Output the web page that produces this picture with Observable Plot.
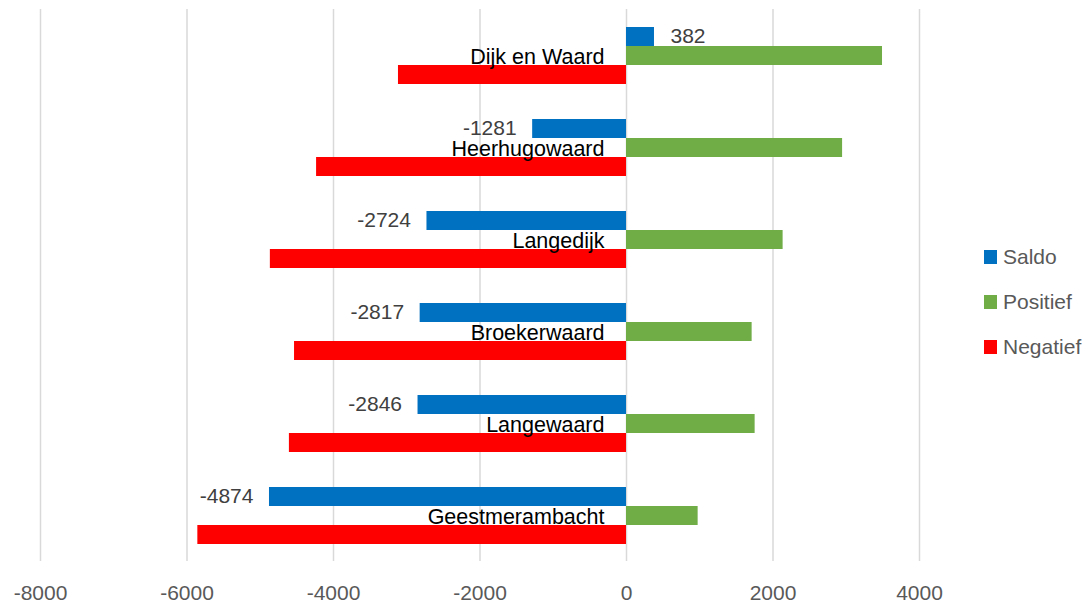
<!DOCTYPE html>
<html><head><meta charset="utf-8">
<script src="https://cdn.jsdelivr.net/npm/d3@7"></script>
<script src="https://cdn.jsdelivr.net/npm/@observablehq/plot@0.6"></script>
<style>
body{margin:0;background:#fff;}
#wrap{position:relative;width:1092px;height:606px;font-family:"Liberation Sans",Arial,sans-serif;}
#wrap svg{display:block;}
#legend{position:absolute;left:984px;top:234px;}
.item{display:flex;align-items:center;height:45px;font-size:21px;color:#595959;}
.sw{width:13px;height:14px;margin-right:6px;}
</style></head><body><div id="wrap"><div id="legend"></div></div>
<script>
const categories = ["Dijk en Waard","Heerhugowaard","Langedijk","Broekerwaard","Langewaard","Geestmerambacht"];
const saldo = [382,-1281,-2724,-2817,-2846,-4874];
const positief = [3495,2950,2138,1715,1756,978];
const negatief = [-3113,-4231,-4862,-4532,-4602,-5852];
const seriesNames = ["Saldo","Positief","Negatief"];
const seriesColors = ["#0070C0","#70AD47","#FF0000"];
const xTicks = [-8000,-6000,-4000,-2000,0,2000,4000];

const rows = categories.flatMap((c,i)=>[
  {cat:c, series:"Saldo", value:saldo[i]},
  {cat:c, series:"Positief", value:positief[i]},
  {cat:c, series:"Negatief", value:negatief[i]}
]);

const font = "'Liberation Sans', Arial, sans-serif";
const chart = Plot.plot({
  width:1092, height:606,
  marginTop:7, marginBottom:44, marginLeft:40, marginRight:173,
  style:{fontFamily:font, background:"white"},
  x:{domain:[-8000,4000], label:null},
  y:{domain:seriesNames, paddingInner:0, paddingOuter:0.9, axis:null, label:null},
  fy:{domain:categories, padding:0, axis:null, label:null},
  color:{domain:seriesNames, range:seriesColors},
  facet:{data:rows, y:"cat"},
  marks:[
    Plot.gridX(xTicks, {stroke:"#d9d9d9", strokeOpacity:1, strokeWidth:1.5}),
    Plot.axisX(xTicks, {tickSize:0, tickPadding:24, fontSize:21, fill:"#595959", label:null, tickFormat:d=>String(d)}),
    Plot.barX(rows, {x:"value", y:"series", fill:"series"}),
    Plot.text(rows, {filter:d=>d.series==="Positief", x:0, y:"series", text:"cat", textAnchor:"end", dx:-22, dy:1, fontSize:21.5, fill:"black"}),
    Plot.text(rows, {filter:d=>d.series==="Saldo" && d.value>=0, x:"value", y:"series", text:d=>String(d.value), textAnchor:"start", dx:16, dy:-1, fontSize:21, fill:"#404040"}),
    Plot.text(rows, {filter:d=>d.series==="Saldo" && d.value<0, x:"value", y:"series", text:d=>String(d.value), textAnchor:"end", dx:-16, dy:-1, fontSize:21, fill:"#404040"})
  ]
});
document.getElementById("wrap").prepend(chart);

const legend = document.getElementById("legend");
seriesNames.forEach((s,i)=>{
  const it = document.createElement("div");
  it.className="item";
  const sw = document.createElement("span");
  sw.className="sw"; sw.style.background = seriesColors[i];
  const t = document.createElement("span");
  t.textContent = s;
  it.appendChild(sw); it.appendChild(t);
  legend.appendChild(it);
});
</script></body></html>
